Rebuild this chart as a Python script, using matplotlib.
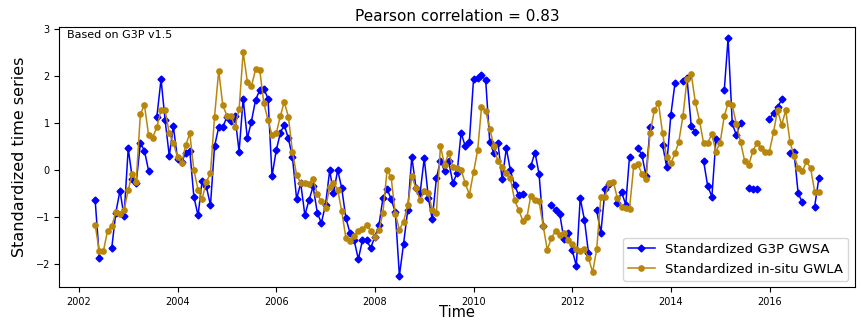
import numpy as np
import pandas as pd
import matplotlib
matplotlib.use("Agg")
import matplotlib.pyplot as plt
import matplotlib.dates as mdates

nan = np.nan

# monthly values, Apr 2002 .. Dec 2016 (one row per year)
g3p_gwsa = [
    -0.64, -1.87, nan, nan, -1.66, -0.91, -0.44, -0.99, 0.46,                       # 2002 (Apr-Dec)
    -0.20, -0.27, 0.57, 0.41, -0.02, nan, 1.13, 1.93, 1.06, 0.30, 0.93, 0.23,        # 2003
    0.16, 0.37, 0.40, -0.57, -0.97, -0.24, -0.35, -0.75, 0.50, 0.91, 0.91, 1.13,     # 2004
    1.05, 1.15, 0.39, 1.52, 0.67, 1.03, 1.49, 1.70, 1.73, 1.52, -0.13, 0.42,         # 2005
    0.79, 0.96, 0.67, 0.27, -0.62, -0.28, -0.96, -0.64, -0.35, -0.91, -1.13, -0.74,  # 2006
    -0.01, -0.50, 0.00, -0.39, -1.03, -1.34, -1.50, -1.90, -1.50, -1.49, -1.66, -1.43,  # 2007
    -1.17, -0.60, -0.41, -0.62, -0.90, -2.25, -1.57, -0.85, 0.28, -0.39, -0.50, 0.25,   # 2008
    -0.60, -1.05, -0.18, 0.20, -0.03, 0.18, -0.28, -0.07, 0.79, 0.50, 0.60, 1.93,    # 2009
    1.95, 2.02, 1.91, 0.60, 0.35, 0.57, -0.20, 0.46, -0.01, -0.32, -0.54, -0.52,     # 2010
    nan, 0.08, 0.37, -0.08, -1.20, nan, -0.74, -0.86, -0.93, -1.47, -1.34, -1.70,    # 2011
    -2.04, -0.60, -1.06, -1.76, nan, -0.86, -1.34, -0.41, -0.30, nan, -0.70, -0.47,  # 2012
    -0.74, 0.28, nan, 0.46, 0.32, -0.13, 0.91, nan, nan, 0.53, 0.07, 1.17,           # 2013
    1.85, nan, 1.90, 1.95, 0.93, 0.81, nan, 0.18, -0.34, -0.57, 0.65, nan,           # 2014
    1.71, 2.80, 0.99, 0.74, 1.00, nan, -0.39, -0.40, -0.40, nan, nan, 1.08,          # 2015
    1.22, 1.33, 1.50, nan, 0.37, 0.39, -0.50, -0.69, nan, nan, -0.78, -0.18,         # 2016
]

insitu_gwla = [
    -1.17, -1.73, -1.73, -1.29, -1.20, -0.90, -0.93, -0.86, -0.42,                   # 2002 (Apr-Dec)
    -0.08, -0.25, 1.19, 1.38, 0.74, 0.69, 0.91, 1.27, 1.27, 0.78, 0.57, 0.28,        # 2003
    0.14, 0.52, 0.78, 0.00, -0.42, -0.62, -0.26, -0.07, 1.13, 2.11, 1.38, 1.15,      # 2004
    1.15, 0.91, 1.29, 2.51, 1.88, 1.78, 2.14, 2.13, 1.42, 1.06, 0.74, 0.78,          # 2005
    1.15, 1.45, 1.13, 0.39, -0.11, -0.28, -0.28, -0.30, -0.20, -0.51, -0.67, -0.81,  # 2006
    -0.37, -0.27, -0.42, -0.88, -1.45, -1.52, -1.40, -1.29, -1.26, -1.17, -1.30, -1.42,  # 2007
    -1.28, -0.92, 0.00, -0.16, -0.94, -1.27, -1.10, -0.74, -0.14, -0.39, -0.64, -0.45,  # 2008
    -0.50, -0.85, -0.92, 0.51, 0.10, 0.37, 0.07, 0.04, 0.00, -0.28, -0.53, -0.05,    # 2009
    0.43, 1.33, 1.26, 0.88, 0.50, 0.18, 0.07, -0.06, -0.18, -0.64, -0.85, -1.08,     # 2010
    -1.00, -0.55, -0.63, -0.67, -1.19, -1.70, -1.45, -1.29, -1.38, -1.35, -1.49, -1.57,  # 2011
    -1.69, -1.72, -1.69, -1.87, -2.18, -1.69, -0.57, -0.57, -0.27, -0.25, -0.60, -0.78,  # 2012
    -0.81, -0.83, 0.08, 0.12, -0.08, -0.20, 0.79, 1.27, 1.43, 0.78, 0.27, 0.14,      # 2013
    0.35, 0.60, 1.15, 1.93, 2.04, 1.45, 1.05, 0.57, 0.58, 0.76, 0.39, 0.58,          # 2014
    1.15, 1.42, 1.38, 0.98, 0.60, 0.20, 0.11, 0.40, 0.58, 0.46, 0.39, 0.39,          # 2015
    0.81, 1.27, 0.96, 1.27, 0.60, 0.30, 0.05, -0.03, 0.18, 0.04, -0.46, -0.47,       # 2016
]

dates = pd.date_range("2002-04-30", periods=len(g3p_gwsa), freq="ME")

TITLE = "Pearson correlation = 0.83"
NOTE = "Based on G3P v1.5"

fig = plt.figure(figsize=(8.62, 3.21), dpi=100)
ax = fig.add_axes([0.0684, 0.1044, 0.9235, 0.8130])

ax.plot(dates, g3p_gwsa, color="blue", marker="D", markersize=3.5, linewidth=1.1,
        label="Standardized G3P GWSA")
ax.plot(dates, insitu_gwla, color="darkgoldenrod", marker="o", markersize=3.8, linewidth=1.1,
        label="Standardized in-situ GWLA")

ax.xaxis.set_major_locator(mdates.YearLocator(2))
ax.xaxis.set_major_formatter(mdates.DateFormatter("%Y"))
ax.tick_params(labelsize=7, pad=3)

ax.set_title(TITLE, fontsize=11, pad=4)
ax.set_xlabel("Time", fontsize=10.5, labelpad=-1)
ax.set_ylabel("Standardized time series", fontsize=11.5, labelpad=6)
ax.text(0.01, 0.985, NOTE, transform=ax.transAxes, ha="left", va="top", fontsize=8)
ax.legend(loc="lower right", fontsize=9.5)

fig.savefig("out.png", dpi=100)
